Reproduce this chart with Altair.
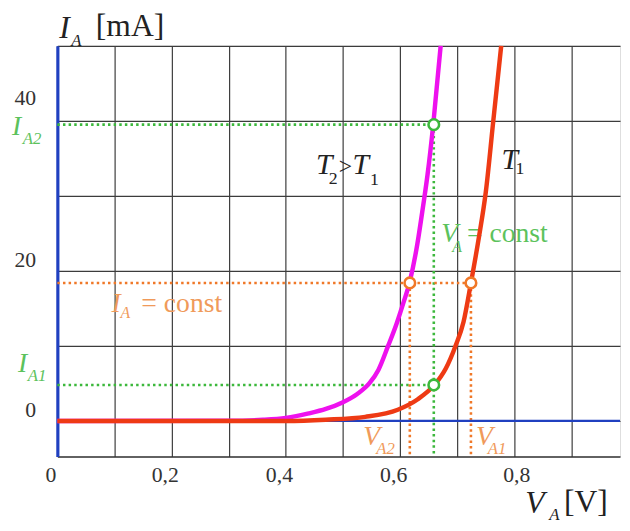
import altair as alt
import pandas as pd

# ---------------- data ----------------
# T2 (higher temperature) characteristic, magenta
v_t2 = [0.0, 0.30, 0.36, 0.40, 0.44, 0.47, 0.50, 0.525, 0.546, 0.562, 0.579, 0.594, 0.606, 0.617, 0.630, 0.640, 0.648, 0.658, 0.671]
i_t2 = [0.0, 0.02, 0.15, 0.4, 1.0, 1.6, 2.5, 3.6, 5.0, 6.8, 10.0, 13.0, 15.8, 18.6, 23.5, 28.5, 32.8, 39.5, 50.0]
# T1 characteristic, red
v_t1 = [0.0, 0.40, 0.47, 0.539, 0.596, 0.631, 0.660, 0.680, 0.697, 0.711, 0.724, 0.738, 0.750, 0.763, 0.777]
i_t1 = [0.0, 0.0, 0.17, 0.55, 1.5, 2.9, 4.8, 7.0, 10.0, 13.2, 18.4, 24.5, 30.5, 39.9, 50.0]

# operating points
V_A2, V_A1, V_CONST = 0.617, 0.724, 0.659
I_CONST, I_A2, I_A1 = 18.4, 39.5, 4.8

X_DOMAIN = [0, 0.985]
Y_DOMAIN = [-4.74, 50]
x_ticks = [0, 0.1, 0.2, 0.3, 0.4, 0.5, 0.6, 0.7, 0.8, 0.9, 1.0]
y_ticks = [0, 10, 20, 30, 40, 50]

GREEN = "#3cb83c"
ORANGE = "#f07828"
MAGENTA = "#ee11ee"
RED = "#ee3a14"
BLUE = "#2040c0"
GREEN_T = "#5cc25c"
ORANGE_T = "#f09a5a"
INK = "#222222"
FONT = "Liberation Serif"

# text pieces (data coordinates of the left/baseline anchor)
ann_text = ["I", "A", "[mA]", "V", "A", "[V]",
            "T", "2", ">", "T", "1", "T", "1",
            "V", "A", "= const",
            "I", "A", "= const",
            "V", "A2", "V", "A1",
            "I", "A2", "I", "A1"]
ann_v = [0.0035, 0.0242, 0.0674, 0.819, 0.861, 0.887,
         0.4527, 0.4752, 0.4925, 0.5167, 0.5475, 0.7776, 0.8018,
         0.6722, 0.6912, 0.717,
         0.0950, 0.1106, 0.147,
         0.5357, 0.5582, 0.7327, 0.7534,
         -0.0795, -0.0605, -0.0691, -0.0518]
ann_i = [51.05, 49.96, 51.28, -12.3, -13.2, -12.2,
         32.89, 31.58, 32.89, 32.89, 31.45, 33.55, 32.89,
         23.82, 22.5, 23.82,
         14.47, 13.68, 14.47,
         -3.16, -4.47, -3.16, -4.47,
         38.16, 36.97, 6.58, 5.39]
ann_size = [32, 17, 32, 32, 17, 32,
            30, 18, 24, 30, 18, 30, 18,
            28, 16, 28,
            28, 16, 28,
            28, 17, 28, 17,
            28, 17, 28, 17]
ann_color = [INK] * 13 + [GREEN_T] * 3 + [ORANGE_T] * 3 + [ORANGE_T] * 4 + [GREEN_T] * 4
ann_italic = [1, 1, 0, 1, 1, 0,
              1, 0, 0, 1, 0, 1, 0,
              1, 1, 0,
              1, 1, 0,
              1, 1, 1, 1,
              1, 1, 1, 1]

# ---------------- tables ----------------
curves = pd.DataFrame({
    "V": v_t2 + v_t1,
    "I": i_t2 + i_t1,
    "T": ["T2"] * len(v_t2) + ["T1"] * len(v_t1),
})

ymin = Y_DOMAIN[0]
guides = pd.DataFrame({
    "x": [0, 0, V_CONST, 0, V_A2, V_A1],
    "x2": [V_CONST, V_CONST, V_CONST, V_A1, V_A2, V_A1],
    "y": [I_A2, I_A1, I_A2, I_CONST, I_CONST, I_CONST],
    "y2": [I_A2, I_A1, ymin, I_CONST, ymin, ymin],
    "c": [GREEN, GREEN, GREEN, ORANGE, ORANGE, ORANGE],
})

points = pd.DataFrame({
    "V": [V_A2, V_A1, V_CONST, V_CONST],
    "I": [I_CONST, I_CONST, I_A2, I_A1],
    "c": [ORANGE, ORANGE, GREEN, GREEN],
})

ann = pd.DataFrame({"t": ann_text, "V": ann_v, "I": ann_i, "s": ann_size,
                    "c": ann_color, "it": ann_italic})

# ---------------- scales / axes ----------------
xs = alt.Scale(domain=X_DOMAIN, nice=False, zero=False)
ys = alt.Scale(domain=Y_DOMAIN, nice=False, zero=False)

x_axis = alt.Axis(
    values=x_ticks, grid=True, gridColor="#3c3c3c", gridWidth=1.2,
    ticks=False, domain=True, domainColor="#333333", domainWidth=1.6,
    labelExpr="round(datum.value*10) % 2 == 1 ? '' : (datum.value == 0 ? '0' : (datum.value == 1 ? '1' : replace(format(datum.value, '.1f'), '.', ',')))",
    labelFont=FONT, labelFontSize=22, labelColor="#333333",
    labelPadding=8, labelFlush=False, labelOverlap=False, labelBound=False,
    labelOffset={"condition": {"test": "datum.value == 0.8", "value": 2}, "value": -7},
    title=None,
)
y_axis = alt.Axis(
    values=y_ticks, grid=True, gridColor="#3c3c3c", gridWidth=1.2,
    ticks=False, domain=True, domainColor=BLUE, domainWidth=3.2,
    labelExpr="(datum.value == 0 || datum.value == 20 || datum.value == 40) ? datum.label : ''",
    labelFont=FONT, labelFontSize=22, labelColor="#333333",
    labelPadding=22, labelFlush=False, labelOverlap=False, labelBound=False,
    labelOffset={"condition": {"test": "datum.value == 40", "value": -24}, "value": -11},
    title=None,
)

curve_layer = alt.Chart(curves).mark_line(strokeWidth=4.5, interpolate="monotone").encode(
    x=alt.X("V:Q", scale=xs, axis=x_axis),
    y=alt.Y("I:Q", scale=ys, axis=y_axis),
    color=alt.Color("T:N", scale=alt.Scale(domain=["T2", "T1"], range=[MAGENTA, RED]), legend=None),
    detail="T:N",
)

guide_layer = alt.Chart(guides).mark_rule(strokeWidth=2.6, strokeDash=[2.5, 3.2], strokeCap="butt").encode(
    x=alt.X("x:Q", scale=xs),
    x2="x2:Q",
    y=alt.Y("y:Q", scale=ys),
    y2="y2:Q",
    color=alt.Color("c:N", scale=None),
)

zero_layer = alt.Chart(pd.DataFrame({"z": [0]})).mark_rule(color=BLUE, strokeWidth=2.2).encode(
    y=alt.Y("z:Q", scale=ys),
)

point_layer = alt.Chart(points).mark_point(shape="circle", filled=True, fill="white", size=115, strokeWidth=2.6, opacity=1).encode(
    x=alt.X("V:Q", scale=xs),
    y=alt.Y("I:Q", scale=ys),
    stroke=alt.Color("c:N", scale=None),
)

def text_layer(italic):
    return alt.Chart(ann).transform_filter(f"datum.it == {1 if italic else 0}").mark_text(
        font=FONT, fontStyle="italic" if italic else "normal",
        align="left", baseline="alphabetic",
    ).encode(
        x=alt.X("V:Q", scale=xs),
        y=alt.Y("I:Q", scale=ys),
        text="t:N",
        size=alt.Size("s:Q", scale=None),
        color=alt.Color("c:N", scale=None),
    )

chart = alt.layer(
    guide_layer, text_layer(True), text_layer(False), zero_layer, curve_layer, point_layer,
).properties(
    width=570, height=416,
    autosize=alt.AutoSizeParams(type="none"),
    padding={"left": 50, "top": 35, "right": 2, "bottom": 64},
    background="white",
).configure_view(stroke=None).configure(font=FONT)

chart.save("out.html", embed_options={"renderer": "svg", "actions": False})
